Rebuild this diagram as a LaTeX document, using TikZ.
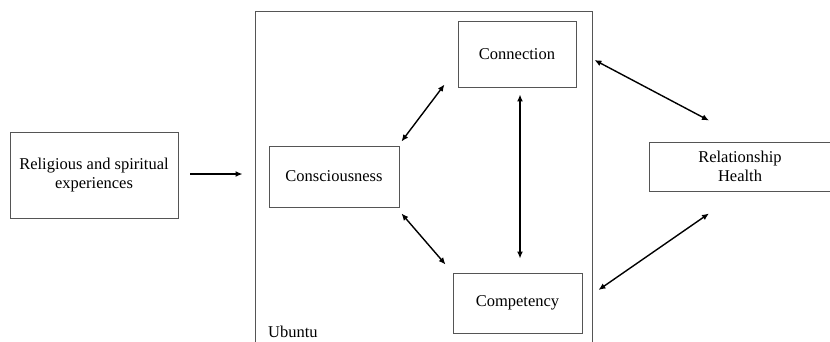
\documentclass[tikz,border=0pt]{standalone}
\usepackage{fontspec}
\setmainfont{Liberation Serif}
\usetikzlibrary{arrows.meta}

\definecolor{boxgray}{RGB}{85,85,85}
\tikzset{
    box/.style={draw=boxgray, line width=0.9pt, align=center, inner sep=0pt,
                font=\fontsize{16.5}{19}\selectfont},
    twoway/.style={{Latex[length=7pt,width=6pt]}-{Latex[length=7pt,width=6pt]}, line width=1.4pt},
    oneway/.style={-{Latex[length=7pt,width=6pt]}, line width=1.4pt}
}
\newcommand{\bx}{\node[box]}

\begin{document}
\begin{tikzpicture}[x=1pt, y=-1pt]
    \useasboundingbox (0,0) rectangle (830,341);

    \bx[minimum width=337pt, minimum height=334pt] (ubuntu) at (423.5,178) {};
    \node[font=\fontsize{16.5}{19}\selectfont, anchor=base west, inner sep=0pt] (ulabel) at (268,337.5) {Ubuntu};

    \bx[minimum width=168pt, minimum height=86pt] (rse) at (94,175) {Religious and spiritual\\experiences};
    \bx[minimum width=118pt, minimum height=66pt] (conn) at (517,54) {Connection};
    \bx[minimum width=130pt, minimum height=61pt] (cons) at (334,176.5) {Consciousness};
    \bx[minimum width=129pt, minimum height=60pt] (comp) at (517.5,303) {Competency};
    \bx[minimum width=182pt, minimum height=49pt] (rel) at (740,166.5) {Relationship\\Health};

    \draw[oneway] ([shift={(12,-1)}]rse.east) -- ([shift={(-12,-4)}]ubuntu.west);

    \draw[twoway] ([shift={(2,-4)}]cons.north east) -- ([shift={(-13,-3)}]conn.south west);
    \draw[twoway] ([shift={(2,6)}]cons.south east) -- ([shift={(-7,-8)}]comp.north west);
    \draw[twoway] ([shift={(3,7)}]conn.south) -- ([shift={(2.5,-14)}]comp.north);
    \draw[twoway] ([shift={(18,6)}]conn.east) -- ([shift={(-31,-21)}]rel.north);
    \draw[twoway] ([shift={(16,-13)}]comp.east) -- ([shift={(-31,22)}]rel.south);
\end{tikzpicture}
\end{document}
